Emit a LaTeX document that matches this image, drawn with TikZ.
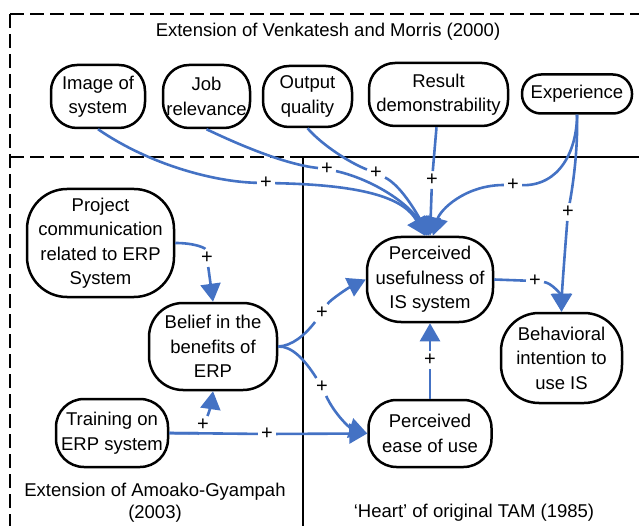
\documentclass[tikz,border=0pt]{standalone}
\usepackage{fontspec}
\setmainfont{Liberation Sans}
\usetikzlibrary{arrows.meta}
\definecolor{linkblue}{RGB}{68,114,196}
\begin{document}
\begin{tikzpicture}[x=1pt,y=-1pt,
  box/.style={draw, line width=2.5pt, rounded corners=#1, align=center,
    inner sep=0pt, font=\fontsize{18.5}{24.5}\selectfont},
  box/.default=26pt,
  link/.style={draw=linkblue, line width=2.6pt},
  tip/.style={-{Triangle[length=18pt,width=20pt]}},
  plus/.style={inner sep=3pt, font=\fontsize{20}{20}\selectfont},
  frame/.style={line width=1.3pt, dash pattern=on 14pt off 6pt},
  caption/.style={font=\fontsize{18.5}{22}\selectfont, align=center}
]
\useasboundingbox (0,0) rectangle (639,526);

% region borders
\draw[frame] (10,14) -- (639,14);
\draw[frame] (10,14) -- (10,526);
\draw[frame] (10,157) -- (303,157);
\draw[line width=1.3pt] (303,157) -- (639,157);
\draw[line width=1.3pt] (303,157) -- (303,526);

% region captions
\node[caption] (capV) at (328,32) {Extension of Venkatesh and Morris (2000)};
\node[caption] (capA) at (155,503) {Extension of Amoako-Gyampah\\(2003)};
\node[caption] (capT) at (474,513) {‘Heart’ of original TAM (1985)};

% constructs
\node[box, minimum width=94pt, minimum height=63pt] (img) at (98,96.5) {Image of\\system};
\node[box, minimum width=87pt, minimum height=63pt] (job) at (206.5,96.5) {Job\\relevance};
\node[box, minimum width=89pt, minimum height=61pt] (out) at (307.5,96.5) {Output\\quality};
\node[box, minimum width=139pt, minimum height=63pt] (res) at (438.5,94.5) {Result\\demonstrability};
\node[box=19pt, minimum width=110pt, minimum height=39pt] (exp) at (577,94) {Experience};
\node[box=40pt, minimum width=147pt, minimum height=108pt] (proj) at (100.5,243) {Project\\communication\\related to ERP\\System};
\node[box=34pt, minimum width=128pt, minimum height=87pt] (bel) at (213,346.5) {Belief in the\\benefits of\\ERP};
\node[box=28pt, minimum width=112pt, minimum height=68pt] (trn) at (112,433) {Training on\\ERP system};
\node[box=28pt, minimum width=123pt, minimum height=67pt] (peou) at (430,433.5) {Perceived\\ease of use};
\node[box=34pt, minimum width=126pt, minimum height=85pt] (pu) at (430,279.5) {Perceived\\usefulness of\\IS system};
\node[box=38pt, minimum width=121pt, minimum height=90pt] (bi) at (561.5,358) {Behavioral\\intention to\\use IS};

% positive-effect markers
\node[plus] (pImg) at (266,183) {+};
\node[plus] (pJob) at (327,169) {+};
\node[plus] (pOut) at (376,173) {+};
\node[plus] (pRes) at (432,180) {+};
\node[plus] (pExpA) at (513,185) {+};
\node[plus] (pExpB) at (568,212) {+};
\node[plus] (pPu) at (535,281) {+};
\node[plus] (pProj) at (207,258) {+};
\node[plus] (pTrnA) at (203,425) {+};
\node[plus] (pTrnB) at (267,434) {+};
\node[plus] (pBelA) at (322,313) {+};
\node[plus] (pBelB) at (322,387) {+};
\node[plus] (pPeou) at (430,360) {+};

% effects on perceived usefulness
\draw[link,tip] (img.south) .. controls (150,165) and (215,182) .. (pImg)
  .. controls (370,185) and (405,200) .. ([xshift=-5pt]pu.north);
\draw[link,tip] (job.south) .. controls (250,150) and (290,165) .. (pJob)
  .. controls (375,180) and (410,205) .. ([xshift=-3pt]pu.north);
\draw[link,tip] (out.south) .. controls (322,145) and (350,163) .. (pOut)
  .. controls (400,185) and (415,210) .. ([xshift=-1pt]pu.north);
\draw[link,tip] ([xshift=-2pt]res.south) -- (pRes) -- (pu.north);
\draw[link,tip] (exp.south) .. controls (577,150) and (560,186) .. (pExpA)
  .. controls (465,185) and (440,210) .. ([xshift=3pt]pu.north);

% effects on behavioral intention
\draw[link,tip] (exp.south) .. controls (578,150) and (573,185) .. (pExpB)
  .. controls (565,250) and (562,290) .. (bi.north);
\draw[link,tip] (pu.east) -- (pPu) .. controls (552,283) and (561,295) .. (bi.north);

% Amoako-Gyampah extension
\draw[link,tip] (proj.east) .. controls (195,243) and (205,248) .. (pProj) -- (bel.north);
\draw[link,tip] (trn.east) .. controls (190,434) and (200,432) .. (pTrnA)
  .. controls (208,415) and (211,405) .. (bel.south);
\draw[link,tip] (trn.east) -- (pTrnB) -- (peou.west);
\draw[link,tip] (bel.east) .. controls (292,346) and (305,335) .. (pBelA)
  .. controls (330,300) and (348,288) .. (pu.west);
\draw[link,tip] (bel.east) .. controls (292,346) and (305,360) .. (pBelB)
  .. controls (335,415) and (350,428) .. (peou.west);

% core TAM
\draw[link,tip] (peou.north) -- (pPeou) -- (pu.south);
\end{tikzpicture}
\end{document}
